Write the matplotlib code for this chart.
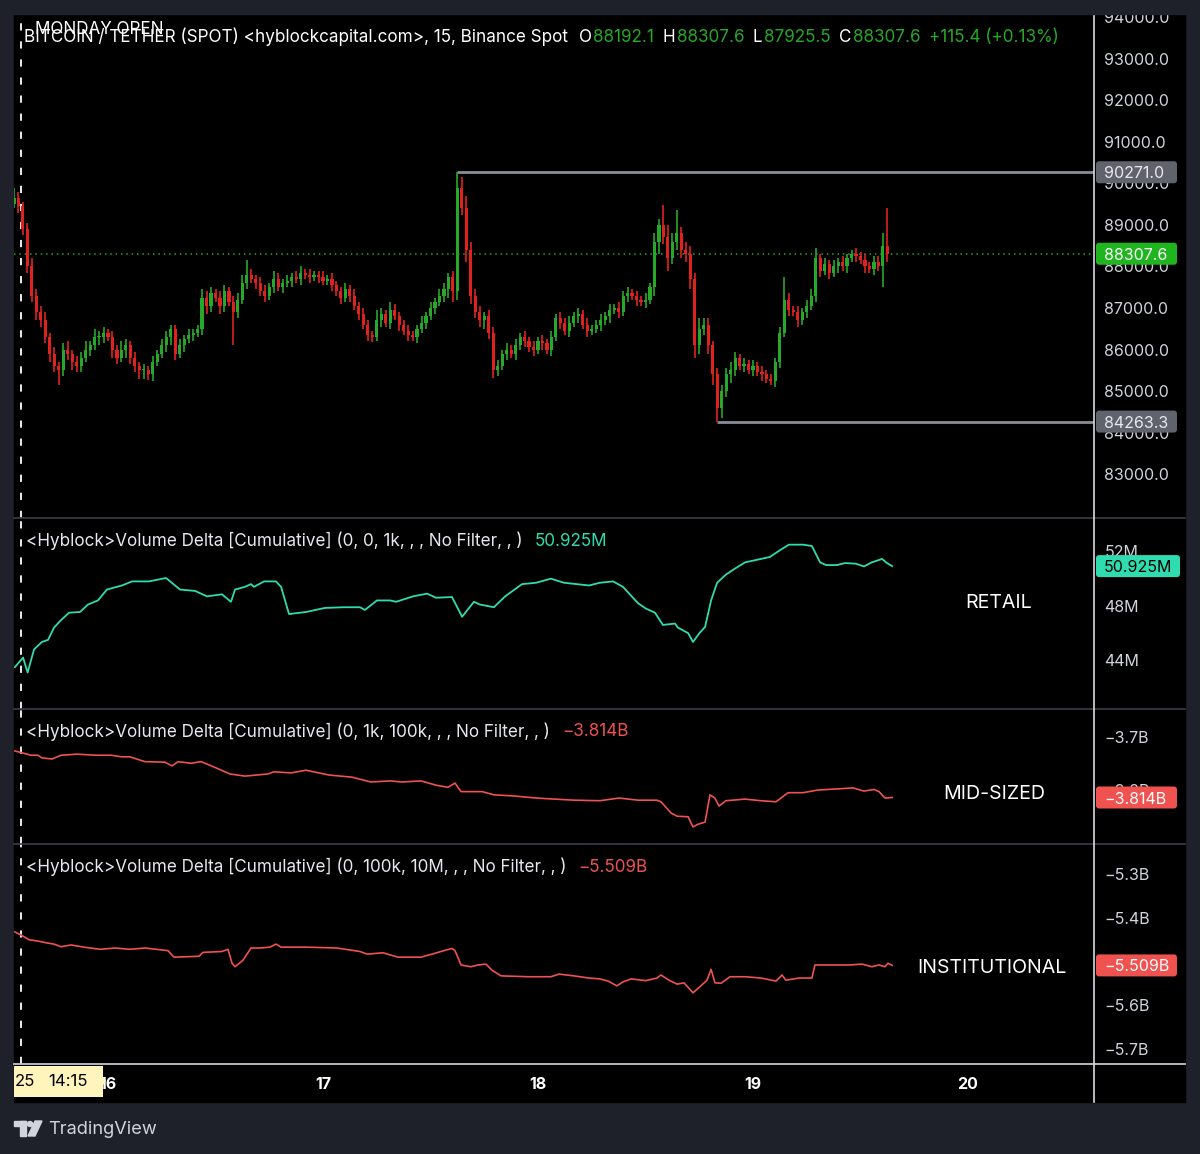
import matplotlib
matplotlib.use('Agg')
import matplotlib.pyplot as plt
import numpy as np
from matplotlib.patches import Rectangle, FancyBboxPatch, Circle, Polygon
from matplotlib.lines import Line2D
from matplotlib.ticker import FuncFormatter
import matplotlib.transforms as mtrans

plt.rcParams['font.family'] = ['Inter', 'DejaVu Sans']

# ---------------- data ----------------
candle_start_day = 15 + 13.5 / 24      # first 30-min candle (day of month)
candle_step_day = 1 / 48
first_open = 89500.0
closes = [
    89650, 89450, 88900, 88000, 87300, 86900, 86700, 86300, 85900, 85600,
    85500, 86000, 85900, 85700, 85600, 85800, 86000, 86100, 86300, 86300,
    86400, 86300, 86000, 85800, 86000, 86100, 85800, 85600, 85500, 85500,
    85400, 85700, 85900, 86100, 86300, 86500, 85900, 86100, 86250, 86350,
    86400, 86500, 87250, 87050, 87350, 87250, 87050, 87400, 87150, 86900,
    87200, 87600, 87800, 87700, 87600, 87400, 87300, 87500, 87700, 87500,
    87600, 87650, 87750, 87700, 87850, 87800, 87750, 87800, 87750, 87650,
    87700, 87550, 87400, 87250, 87450, 87300, 87050, 86850, 86600, 86350,
    86300, 86700, 86850, 86650, 86950, 86800, 86600, 86450, 86350, 86300,
    86500, 86650, 86800, 87000, 87150, 87300, 87450, 87750, 87400, 89900,
    89400, 88400, 87300, 86900, 86700, 86800, 86400, 85500, 85600, 85900,
    86000, 85900, 86100, 86300, 86200, 86050, 86000, 86200, 86150, 86000,
    86300, 86750, 86650, 86450, 86650, 86800, 86850, 86600, 86450, 86500,
    86600, 86700, 86800, 86950, 87000, 86900, 87300, 87350, 87300, 87200,
    87150, 87200, 87500, 88600, 89000, 88700, 88200, 88600, 88800, 88400,
    88300, 87700, 86100, 86500, 86600, 86100, 85400, 84600, 85000, 85400,
    85500, 85800, 85600, 85650, 85500, 85600, 85450, 85400, 85300, 85250,
    85700, 86400, 87200, 86950, 86900, 86700, 86900, 87050, 87300, 88200,
    87900, 88050, 87850, 88000, 88100, 88000, 88200, 88300, 88250, 88150,
    88000, 87950, 88100, 88000, 88500, 88307.6,
]
wick_up = [
    250, 150, 100, 150, 200, 150, 150, 200, 100, 150,
    100, 150, 200, 100, 150, 150, 200, 100, 200, 150,
    150, 100, 150, 100, 200, 150, 100, 150, 100, 150,
    100, 150, 100, 150, 150, 100, 100, 150, 100, 150,
    100, 100, 200, 150, 150, 100, 150, 150, 100, 150,
    150, 200, 350, 150, 100, 150, 150, 100, 200, 150,
    100, 150, 100, 150, 150, 100, 150, 100, 100, 150,
    100, 150, 100, 100, 150, 100, 150, 100, 150, 100,
    100, 250, 150, 100, 200, 150, 100, 100, 150, 100,
    100, 150, 100, 150, 100, 150, 150, 100, 150, 371,
    250, 300, 200, 150, 150, 100, 150, 150, 150, 100,
    150, 100, 150, 100, 150, 100, 150, 100, 150, 100,
    150, 100, 150, 100, 150, 100, 150, 100, 150, 100,
    100, 150, 100, 150, 100, 150, 100, 150, 100, 100,
    100, 150, 100, 200, 150, 480, 300, 200, 560, 150,
    200, 200, 150, 250, 150, 150, 100, 150, 150, 150,
    200, 150, 100, 150, 100, 150, 100, 150, 100, 100,
    100, 150, 550, 150, 100, 150, 100, 150, 150, 250,
    100, 150, 100, 150, 100, 150, 100, 100, 150, 100,
    150, 100, 150, 150, 300, 900,
]
wick_dn = [
    100, 150, 150, 150, 150, 200, 150, 150, 200, 150,
    350, 150, 150, 200, 150, 150, 100, 150, 100, 200,
    150, 100, 200, 150, 100, 200, 150, 150, 200, 200,
    140, 150, 100, 100, 150, 200, 150, 100, 150, 100,
    150, 100, 150, 200, 150, 100, 200, 150, 100, 800,
    150, 100, 150, 100, 150, 100, 150, 100, 150, 100,
    150, 100, 150, 100, 150, 100, 150, 100, 150, 100,
    100, 150, 100, 150, 100, 150, 100, 150, 100, 150,
    120, 100, 150, 100, 150, 100, 150, 100, 150, 100,
    150, 100, 150, 100, 150, 100, 150, 200, 250, 200,
    150, 300, 200, 150, 150, 200, 150, 190, 150, 100,
    150, 100, 150, 100, 150, 100, 150, 100, 150, 100,
    150, 100, 150, 100, 150, 100, 150, 100, 150, 100,
    100, 150, 100, 150, 100, 150, 100, 150, 100, 150,
    100, 150, 100, 200, 300, 150, 300, 150, 200, 200,
    200, 250, 300, 200, 150, 200, 250, 336.7, 250, 150,
    200, 150, 100, 150, 100, 150, 100, 150, 100, 100,
    150, 150, 100, 150, 100, 150, 100, 150, 100, 150,
    150, 100, 150, 100, 150, 100, 150, 100, 150, 100,
    150, 100, 150, 100, 500, 200,
]
monday_open_day = 15 + 14.25 / 24
header_title = "BITCOIN / TETHER (SPOT) <hyblockcapital.com>, 15, Binance Spot"
ohlc_keys = ["O", "H", "L", "C"]
ohlc_vals = ["88192.1", "88307.6", "87925.5", "88307.6"]
change_text = "+115.4 (+0.13%)"

retail_days = [15.567, 15.605, 15.626, 15.656, 15.693, 15.721, 15.749, 15.781, 15.819, 15.870,
               15.907, 15.953, 15.995, 16.065, 16.112, 16.191, 16.270, 16.335, 16.405, 16.460,
               16.530, 16.572, 16.591, 16.637, 16.665, 16.679, 16.726, 16.781, 16.805, 16.842,
               16.921, 17.009, 17.098, 17.172, 17.195, 17.251, 17.312, 17.340, 17.419, 17.484,
               17.526, 17.600, 17.647, 17.702, 17.730, 17.795, 17.847, 17.926, 17.991, 18.060,
               18.121, 18.237, 18.288, 18.349, 18.395, 18.465, 18.502, 18.544, 18.581, 18.637,
               18.651, 18.698, 18.721, 18.751, 18.777, 18.805, 18.833, 18.874, 18.912, 18.963,
               19.037, 19.079, 19.126, 19.167, 19.233, 19.274, 19.312, 19.340, 19.391, 19.428,
               19.479, 19.516, 19.553, 19.600, 19.623, 19.647]
retail_vals = [43.5, 44.2, 43.1, 44.8, 45.35, 45.5, 46.4, 46.95, 47.5, 47.55,
               48.1, 48.4, 49.2, 49.5, 49.8, 49.8, 50.05, 49.2, 49.1, 48.7,
               48.85, 48.3, 49.2, 49.4, 49.6, 49.4, 49.8, 49.8, 49.4, 47.4,
               47.55, 47.85, 47.9, 47.9, 47.7, 48.4, 48.4, 48.3, 48.7, 48.9,
               48.6, 48.65, 47.2, 48.3, 48.1, 47.9, 48.7, 49.6, 49.7, 50.0,
               49.7, 49.5, 49.7, 49.8, 49.4, 48.2, 47.8, 47.5, 46.6, 46.7,
               46.4, 46.0, 45.35, 46.0, 46.45, 48.4, 49.7, 50.3, 50.7, 51.2,
               51.45, 51.6, 52.1, 52.5, 52.5, 52.4, 51.2, 51.0, 51.0, 51.15,
               51.1, 50.9, 51.2, 51.45, 51.15, 50.925]

mid_days = [15.567, 15.605, 15.642, 15.674, 15.693, 15.740, 15.781, 15.856, 15.944, 16.014,
            16.065, 16.102, 16.172, 16.265, 16.298, 16.326, 16.386, 16.433, 16.493, 16.567,
            16.637, 16.744, 16.772, 16.851, 16.921, 17.028, 17.135, 17.223, 17.312, 17.367,
            17.456, 17.526, 17.581, 17.614, 17.642, 17.740, 17.795, 17.884, 17.991, 18.079,
            18.167, 18.288, 18.377, 18.465, 18.553, 18.572, 18.619, 18.647, 18.698, 18.721,
            18.744, 18.777, 18.800, 18.823, 18.842, 18.874, 18.963, 19.037, 19.107, 19.163,
            19.233, 19.302, 19.391, 19.465, 19.516, 19.563, 19.586, 19.614, 19.647]
mid_vals = [-3.727, -3.731, -3.735, -3.735, -3.740, -3.742, -3.735, -3.733, -3.735, -3.735,
            -3.738, -3.738, -3.747, -3.748, -3.755, -3.747, -3.750, -3.747, -3.757, -3.770,
            -3.774, -3.770, -3.766, -3.768, -3.763, -3.772, -3.776, -3.785, -3.783, -3.785,
            -3.783, -3.791, -3.795, -3.787, -3.803, -3.803, -3.809, -3.811, -3.815, -3.817,
            -3.819, -3.820, -3.815, -3.819, -3.819, -3.822, -3.843, -3.849, -3.850, -3.869,
            -3.864, -3.860, -3.809, -3.815, -3.830, -3.820, -3.817, -3.820, -3.822, -3.805,
            -3.805, -3.800, -3.798, -3.796, -3.802, -3.799, -3.803, -3.815, -3.814]

inst_days = [15.567, 15.595, 15.633, 15.674, 15.712, 15.749, 15.781, 15.828, 15.888, 15.963,
             16.033, 16.102, 16.172, 16.279, 16.307, 16.423, 16.442, 16.530, 16.558, 16.577,
             16.591, 16.628, 16.665, 16.707, 16.753, 16.781, 16.805, 16.921, 17.065, 17.172,
             17.205, 17.279, 17.349, 17.456, 17.507, 17.563, 17.600, 17.614, 17.642, 17.688,
             17.721, 17.758, 17.786, 17.828, 17.953, 18.060, 18.098, 18.167, 18.237, 18.288,
             18.326, 18.367, 18.395, 18.433, 18.502, 18.553, 18.572, 18.609, 18.647, 18.679,
             18.721, 18.753, 18.786, 18.805, 18.823, 18.851, 18.893, 18.963, 19.037, 19.107,
             19.135, 19.153, 19.214, 19.274, 19.288, 19.340, 19.391, 19.447, 19.507, 19.553,
             19.586, 19.614, 19.628, 19.647]
inst_vals = [-5.432, -5.439, -5.450, -5.453, -5.457, -5.460, -5.466, -5.462, -5.467, -5.472,
             -5.469, -5.472, -5.469, -5.475, -5.490, -5.488, -5.479, -5.477, -5.472, -5.504,
             -5.512, -5.497, -5.469, -5.469, -5.467, -5.460, -5.467, -5.467, -5.469, -5.477,
             -5.483, -5.480, -5.490, -5.490, -5.483, -5.475, -5.470, -5.475, -5.508, -5.512,
             -5.508, -5.506, -5.520, -5.533, -5.535, -5.535, -5.529, -5.533, -5.538, -5.540,
             -5.545, -5.556, -5.547, -5.540, -5.544, -5.538, -5.531, -5.543, -5.552, -5.549,
             -5.572, -5.558, -5.543, -5.518, -5.549, -5.550, -5.535, -5.535, -5.538, -5.545,
             -5.531, -5.543, -5.538, -5.538, -5.508, -5.508, -5.508, -5.508, -5.506, -5.512,
             -5.508, -5.512, -5.504, -5.509]

price_ticks = [83000, 84000, 85000, 86000, 87000, 88000, 89000, 90000, 91000, 92000, 93000, 94000]
retail_ticks = [44, 48, 52]
mid_ticks = [-3.8, -3.7]
inst_ticks = [-5.7, -5.6, -5.5, -5.4, -5.3]
day_ticks = [16, 17, 18, 19, 20]
pane_names = ["RETAIL", "MID-SIZED", "INSTITUTIONAL"]
pane_titles = ["<Hyblock>Volume Delta [Cumulative] (0, 0, 1k, , , No Filter, , )",
               "<Hyblock>Volume Delta [Cumulative] (0, 1k, 100k, , , No Filter, , )",
               "<Hyblock>Volume Delta [Cumulative] (0, 100k, 10M, , , No Filter, , )"]

# ---------------- style ----------------
W, H = 1200, 1154
BG = '#1e2129'
TXT = '#d1d4dc'
GREEN = '#26a828'
RED = '#e0221f'
TEAL = '#2fdcb0'
SALMON = '#ee5252'
LVL = '#8a8d96'
TICK_FS = 11.5
IDT = mtrans.IdentityTransform()

fig = plt.figure(figsize=(W / 100, H / 100), dpi=100)
fig.patch.set_facecolor(BG)

def fx(x): return x / W
def fy(y): return 1 - y / H

fig.add_artist(Rectangle((fx(14), fy(1102)), fx(1185) - fx(14), (1102 - 14) / H,
                         transform=fig.transFigure, color='black', zorder=-5))

XL = 16 - (108 - 14) / 215
XR = 16 + (1094 - 108) / 215

def add_ax(top, bottom, ylim, ticks, fmt):
    ax = fig.add_axes([fx(14), fy(bottom), fx(1094) - fx(14), (bottom - top) / H])
    ax.set_facecolor('black')
    for s in ax.spines.values():
        s.set_visible(False)
    ax.set_xlim(XL, XR)
    ax.set_ylim(*ylim)
    ax.tick_params(axis='x', bottom=False, labelbottom=False)
    ax.yaxis.tick_right()
    ax.set_yticks(ticks)
    ax.yaxis.set_major_formatter(FuncFormatter(fmt))
    ax.tick_params(axis='y', length=0, pad=7.5, labelcolor=TXT, labelsize=TICK_FS)
    ax.axvline(monday_open_day, color='white', ls=(0, (4, 6)), lw=1.3, zorder=1)
    return ax

def bfmt(v, p):
    return ("\u2212" if v < 0 else "") + f"{abs(v):.1f}B"

ax_p = add_ax(14, 518, (81940, 94084), price_ticks, lambda v, p: f"{v:.1f}")
ax_r = add_ax(518, 709, (40.42, 54.46), retail_ticks, lambda v, p: f"{v:.0f}M")
ax_m = add_ax(709, 844, (-3.9009, -3.6486), mid_ticks, bfmt)
ax_i = add_ax(844, 1064, (-5.7356, -5.2299), inst_ticks, bfmt)

# ---------------- candles ----------------
n = len(closes)
t = candle_start_day + np.arange(n) * candle_step_day
c = np.array(closes, float)
o = np.concatenate([[first_open], c[:-1]])
hi = np.maximum(o, c) + np.array(wick_up, float)
lo = np.minimum(o, c) - np.array(wick_dn, float)
cols = np.where(c >= o, GREEN, RED)
ax_p.vlines(t, lo, hi, colors=cols, lw=1.2, zorder=3)
ax_p.bar(t, np.maximum(np.abs(c - o), 25), bottom=np.minimum(o, c),
         width=candle_step_day * 0.7, color=cols, zorder=4, linewidth=0)

ih, il = int(np.argmax(hi)), int(np.argmin(lo))
ax_p.hlines(hi[ih], t[ih], XR, color=LVL, lw=2.0, zorder=2)
ax_p.hlines(lo[il], t[il], XR, color=LVL, lw=2.0, zorder=2)
ax_p.axhline(c[-1], color=GREEN, ls=(0, (1, 2.5)), lw=1.1, zorder=2)

# ---------------- indicator lines ----------------
ax_r.plot(retail_days, retail_vals, color=TEAL, lw=1.3, zorder=3)
ax_m.plot(mid_days, mid_vals, color=SALMON, lw=1.2, zorder=3)
ax_i.plot(inst_days, inst_vals, color=SALMON, lw=1.2, zorder=3)

# ---------------- time axis ----------------
ax_i.set_xticks(day_ticks)
ax_i.set_xticklabels([str(d) for d in day_ticks], fontweight='bold')
ax_i.tick_params(axis='x', bottom=True, labelbottom=True, length=0, pad=9.5,
                 labelcolor='white', labelsize=11.5)

# ---------------- frame lines ----------------
def hline_px(y, x0, x1, color, lw, z=6):
    fig.add_artist(Line2D([fx(x0), fx(x1)], [fy(y), fy(y)], transform=fig.transFigure,
                          color=color, lw=lw, zorder=z))

for y in (518, 709, 844):
    hline_px(y, 14, 1185, '#3b3e46', 1.2)
hline_px(1064, 14, 1185, '#c4c6cc', 1.3)
fig.add_artist(Line2D([fx(1094), fx(1094)], [fy(14), fy(1102)], transform=fig.transFigure,
                      color='#d8dae0', lw=1.2, zorder=6))
# clip band above the panel
fig.add_artist(Rectangle((0, fy(14)), 1, 14 / H, transform=fig.transFigure, color=BG, zorder=7))

# ---------------- value tags on the scale ----------------
def tag(ax, value, text, fc, tc, x0=1096, x1=1177, h=22):
    yd = ax.transData.transform((XL, value))[1]
    fig.add_artist(FancyBboxPatch((x0, yd - h / 2), x1 - x0, h,
                                  boxstyle='round,pad=0,rounding_size=3',
                                  transform=IDT, fc=fc, ec='none', zorder=8))
    fig.text(x0 + 8, yd, text, transform=IDT, color=tc, fontsize=TICK_FS,
             va='center_baseline', ha='left', zorder=9)

tag(ax_p, hi[ih], f"{hi[ih]:.1f}", '#60636c', '#e6e8ee')
tag(ax_p, lo[il], f"{lo[il]:.1f}", '#60636c', '#e6e8ee')
tag(ax_p, c[-1], f"{c[-1]:.1f}", '#1fb51f', 'white')
tag(ax_r, retail_vals[-1], f"{retail_vals[-1]:.3f}M", TEAL, 'black', x1=1180)
tag(ax_m, mid_vals[-1], f"\u2212{abs(mid_vals[-1]):.3f}B", '#f05250', 'white')
tag(ax_i, inst_vals[-1], f"\u2212{abs(inst_vals[-1]):.3f}B", '#f05250', 'white')

# ---------------- texts ----------------
renderer = fig.canvas.get_renderer()

def chain(x, y, segs, fs):
    for s, col, gap in segs:
        tx = fig.text(fx(x), fy(y), s, color=col, fontsize=fs, va='center', ha='left', zorder=9)
        x += tx.get_window_extent(renderer=renderer).width + gap

HFS = 12.3
fig.text(fx(35), fy(30), "MONDAY OPEN", color='white', fontsize=HFS, va='center', ha='left', zorder=9)
segs = [(header_title, 'white', 11)]
for k, v in zip(ohlc_keys, ohlc_vals):
    segs += [(k, 'white', 1), (v, GREEN, 9)]
segs += [(change_text, GREEN, 0)]
chain(24, 37, segs, HFS)

vals_txt = [f"{retail_vals[-1]:.3f}M", f"\u2212{abs(mid_vals[-1]):.3f}B", f"\u2212{abs(inst_vals[-1]):.3f}B"]
vcols = [TEAL, SALMON, SALMON]
for title, y, vt, vc in zip(pane_titles, (541, 732, 867), vals_txt, vcols):
    chain(26, y, [(title, '#e6e8ee', 12), (vt, vc, 0)], 12.3)

for name, xc, y in zip(pane_names, (999, 994, 992), (603, 794, 968)):
    fig.text(fx(xc), fy(y), name, color='white', fontsize=14.1, va='center', ha='center', zorder=9)

# crosshair time label on the time axis
fig.add_artist(Polygon([(fx(14), fy(1066)), (fx(103), fy(1066)), (fx(103), fy(1077)),
                        (fx(106), fy(1081)), (fx(103), fy(1085)), (fx(103), fy(1097)),
                        (fx(14), fy(1097))], closed=True, transform=fig.transFigure,
                       fc='#fff4bb', ec='none', zorder=8))
fig.text(fx(15), fy(1082), "25", color='black', fontsize=12, va='center', ha='left', zorder=9)
fig.text(fx(48), fy(1082), "14:15", color='black', fontsize=12, va='center', ha='left', zorder=9)

# TradingView logo
LOGO = '#d1d4dc'
fig.add_artist(Rectangle((fx(14), fy(1126)), fx(12), 5 / H, transform=fig.transFigure, color=LOGO, zorder=9))
fig.add_artist(Rectangle((fx(20), fy(1136)), fx(6), 15 / H, transform=fig.transFigure, color=LOGO, zorder=9))
fig.add_artist(Circle((fx(30), fy(1124)), 2.6 / W, transform=fig.transFigure, color=LOGO, zorder=9))
fig.add_artist(Polygon([(fx(35), fy(1121)), (fx(42), fy(1121)), (fx(35), fy(1136)), (fx(28), fy(1136))],
                       closed=True, transform=fig.transFigure, color=LOGO, zorder=9))
fig.text(fx(48), fy(1129), "TradingView", color=LOGO, fontsize=13.1, va='center', ha='left', zorder=9)

fig.savefig('out.png', dpi=100, facecolor=BG)
